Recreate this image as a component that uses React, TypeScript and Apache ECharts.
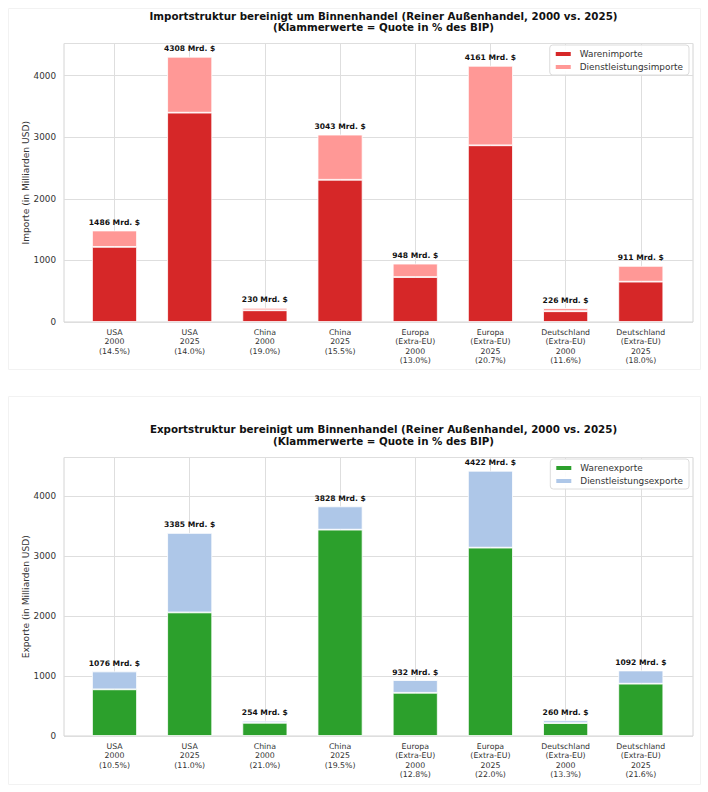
import React, { useEffect, useRef } from "react";
import * as echarts from "echarts";

const regionNames = [
  "USA",
  "USA",
  "China",
  "China",
  "Europa\n(Extra-EU)",
  "Europa\n(Extra-EU)",
  "Deutschland\n(Extra-EU)",
  "Deutschland\n(Extra-EU)",
];
const years = ["2000", "2025", "2000", "2025", "2000", "2025", "2000", "2025"];
const importQuota = ["14.5%", "14.0%", "19.0%", "15.5%", "13.0%", "20.7%", "11.6%", "18.0%"];
const exportQuota = ["10.5%", "11.0%", "21.0%", "19.5%", "12.8%", "22.0%", "13.3%", "21.6%"];

const importGoods = [1220, 3400, 190, 2310, 730, 2870, 175, 655];
const importTotals = [1486, 4308, 230, 3043, 948, 4161, 226, 911];
const exportGoods = [778, 2060, 220, 3440, 720, 3140, 215, 872];
const exportTotals = [1076, 3385, 254, 3828, 932, 4422, 260, 1092];

const yTicks = [0, 1000, 2000, 3000, 4000];

const FONT = "DejaVu Sans";
const GRID_COLOR = "#dedede";

function buildLabels(quota: string[]) {
  return regionNames.map((r, i) => `${r}\n${years[i]}\n(${quota[i]})`);
}

export default function App() {
  const ref = useRef<HTMLDivElement>(null);

  useEffect(() => {
    if (!ref.current) return;
    const chart = echarts.init(ref.current, undefined, { renderer: "svg" });

    const impServices = importTotals.map((t, i) => t - importGoods[i]);
    const expServices = exportTotals.map((t, i) => t - exportGoods[i]);
    const impMax = Math.max(...importTotals) * 1.05;
    const expMax = Math.max(...exportTotals) * 1.05;

    const plotH = 278.5;
    const tops = [43.5, 457.5];
    const frameLeft = 64;
    const frameRight = 15;
    const barLeft = 114.5;
    const barRight = 67.2;

    const grids: any[] = [];
    const xAxes: any[] = [];
    const yAxes: any[] = [];
    const maxes = [impMax, expMax];
    const labels = [buildLabels(importQuota), buildLabels(exportQuota)];
    const yNames = ["Importe (in Milliarden USD)", "Exporte (in Milliarden USD)"];

    [0, 1].forEach((k) => {
      grids.push({
        left: frameLeft,
        right: frameRight,
        top: tops[k],
        height: plotH,
        show: true,
        borderColor: "#d4d4d4",
        borderWidth: 1,
        backgroundColor: "#fff",
        containLabel: false,
      });
      grids.push({
        left: barLeft,
        right: barRight,
        top: tops[k],
        height: plotH,
        containLabel: false,
      });
      xAxes.push({
        type: "value",
        gridIndex: 2 * k,
        min: 0,
        max: 1,
        show: false,
      });
      xAxes.push({
        type: "category",
        gridIndex: 2 * k + 1,
        data: labels[k],
        boundaryGap: false,
        axisLine: { show: false },
        axisTick: { show: false },
        splitLine: { show: true, interval: 0, lineStyle: { color: GRID_COLOR, width: 1 } },
        axisLabel: {
          interval: 0,
          margin: 5.5,
          fontFamily: FONT,
          fontSize: 7.8,
          lineHeight: 9.4,
          color: "#333",
          align: "center",
        },
      });
      yAxes.push({
        type: "value",
        gridIndex: 2 * k,
        min: 0,
        max: maxes[k],
        interval: 1000,
        name: yNames[k],
        nameLocation: "middle",
        nameGap: 33.5,
        nameRotate: 90,
        nameMoveOverlap: false,
        nameTextStyle: { fontFamily: FONT, fontSize: 9.1, color: "#333" },
        axisLine: { show: false },
        axisTick: { show: false },
        splitLine: { show: true, lineStyle: { color: GRID_COLOR, width: 1 } },
        axisLabel: {
          margin: 8,
          fontFamily: FONT,
          fontSize: 8.8,
          color: "#333",
          formatter: (v: number) => (yTicks.includes(v) ? String(v) : ""),
          showMaxLabel: false,
        },
      });
      yAxes.push({
        type: "value",
        gridIndex: 2 * k + 1,
        min: 0,
        max: maxes[k],
        show: false,
        splitLine: { show: false },
      });
    });

    const labelStyle = (totals: number[]) => ({
      show: true,
      position: "top",
      distance: 4,
      fontFamily: FONT,
      fontSize: 7.6,
      fontWeight: "bold",
      color: "#111",
      formatter: (p: any) => `${totals[p.dataIndex]} Mrd. $`,
    });

    const barBase = {
      type: "bar",
      barWidth: 45,
      clip: false,
      itemStyle: { borderColor: "#fff", borderWidth: 0.8 },
    };

    const series: any[] = [
      {
        ...barBase,
        name: "Warenimporte",
        xAxisIndex: 1,
        yAxisIndex: 1,
        stack: "imp",
        data: importGoods,
        itemStyle: { ...barBase.itemStyle, color: "#d62728" },
      },
      {
        ...barBase,
        name: "Dienstleistungsimporte",
        xAxisIndex: 1,
        yAxisIndex: 1,
        stack: "imp",
        data: impServices,
        itemStyle: { ...barBase.itemStyle, color: "#ff9896" },
        label: labelStyle(importTotals),
      },
      {
        ...barBase,
        name: "Warenexporte",
        xAxisIndex: 3,
        yAxisIndex: 3,
        stack: "exp",
        data: exportGoods,
        itemStyle: { ...barBase.itemStyle, color: "#2ca02c" },
      },
      {
        ...barBase,
        name: "Dienstleistungsexporte",
        xAxisIndex: 3,
        yAxisIndex: 3,
        stack: "exp",
        data: expServices,
        itemStyle: { ...barBase.itemStyle, color: "#aec7e8" },
        label: labelStyle(exportTotals),
      },
    ];

    const legendBase = {
      orient: "vertical",
      right: 19,
      itemWidth: 17,
      itemHeight: 6,
      itemGap: 3,
      padding: [4, 6, 3, 4],
      icon: "rect",
      borderColor: "#dcdcdc",
      borderWidth: 1,
      borderRadius: 3,
      backgroundColor: "rgba(255,255,255,0.9)",
      textStyle: {
        fontFamily: FONT,
        fontSize: 8.9,
        lineHeight: 10,
        color: "#333",
        padding: [0, 0, 0, 3],
      },
    };

    const titleText = (kind: string) =>
      `${kind} bereinigt um Binnenhandel (Reiner Außenhandel, 2000 vs. 2025)\n(Klammerwerte = Quote in % des BIP)`;

    const titleStyle = {
      fontFamily: FONT,
      fontSize: 10.3,
      fontWeight: "bold",
      color: "#111",
      lineHeight: 11.6,
    };

    chart.setOption({
      animation: false,
      backgroundColor: "#fff",
      title: [
        {
          text: titleText("Importstruktur"),
          left: 378.5,
          top: 5,
          textAlign: "center",
          textStyle: titleStyle,
        },
        {
          text: titleText("Exportstruktur"),
          left: 378.5,
          top: 418.5,
          textAlign: "center",
          textStyle: titleStyle,
        },
      ],
      legend: [
        { ...legendBase, top: 45, data: ["Warenimporte", "Dienstleistungsimporte"] },
        { ...legendBase, top: 459, data: ["Warenexporte", "Dienstleistungsexporte"] },
      ],
      graphic: [
        {
          type: "rect",
          shape: { x: 8.5, y: 8.5, width: 692, height: 361 },
          style: { fill: "none", stroke: "#f2f2f2", lineWidth: 1 },
          silent: true,
          z: -10,
        },
        {
          type: "rect",
          shape: { x: 8.5, y: 396.5, width: 692, height: 388 },
          style: { fill: "none", stroke: "#f2f2f2", lineWidth: 1 },
          silent: true,
          z: -10,
        },
      ],
      grid: grids,
      xAxis: xAxes,
      yAxis: yAxes,
      series,
    });

    return () => chart.dispose();
  }, []);

  return (
    <div
      ref={ref}
      style={{ position: "absolute", left: 0, top: 0, width: 708, height: 792 }}
    />
  );
}
